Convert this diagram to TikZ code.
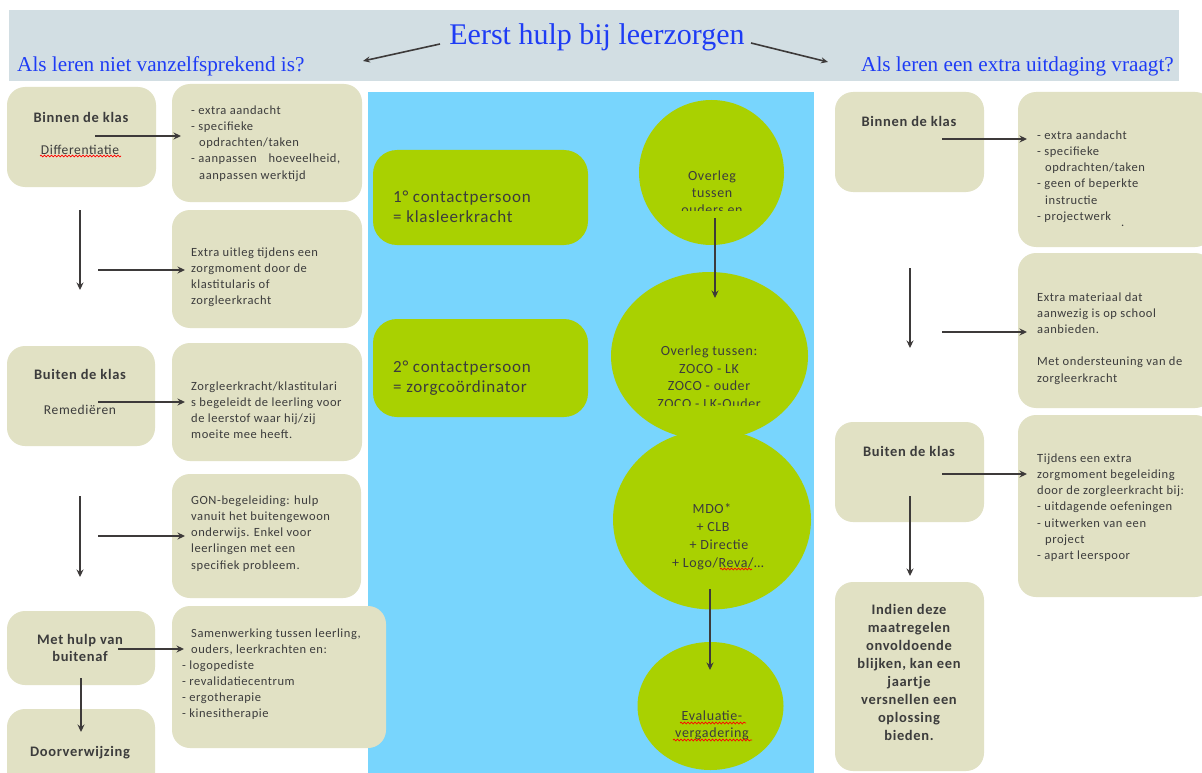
\documentclass[tikz,border=0pt]{standalone}
\usepackage{fontspec}
\setmainfont{Liberation Serif}
\newfontfamily\boxfont{Carlito}[LetterSpace=4.5]
\usetikzlibrary{arrows.meta,decorations.pathmorphing,shapes.geometric}
\definecolor{band}{HTML}{D2DEE3}
\definecolor{beige}{HTML}{E1E1C4}
\definecolor{skyb}{HTML}{78D5FD}
\definecolor{lime}{HTML}{A9D101}
\definecolor{txtgray}{HTML}{3C3C3C}
\definecolor{titleblue}{HTML}{1E3CF5}
\definecolor{arrowgray}{HTML}{3D3A3A}
\newcommand\myind{\hspace*{8pt}}
\tikzset{
  beigebox/.style={fill=beige, draw=none, rounded corners=18pt, inner sep=0pt},
  limebox/.style={fill=lime, draw=none, rounded corners=24pt, inner sep=0pt},
  limeell/.style={ellipse, fill=lime, draw=none, inner sep=0pt},
  flow/.style={draw=arrowgray, line width=2.3pt, -{Stealth[length=7.5pt,width=7pt]}},
  thinflow/.style={draw=arrowgray, line width=1.6pt, -{Stealth[length=7pt,width=6pt]}},
  stxt/.style={font=\boxfont\fontsize{12.5}{16.2}\selectfont, text=txtgray, align=left, anchor=north west, inner sep=0pt},
  rtxt/.style={font=\boxfont\fontsize{13.5}{17}\selectfont, text=txtgray, align=center, inner sep=0pt},
  bhead/.style={font=\boxfont\bfseries\fontsize{14.5}{18}\selectfont, text=txtgray, align=center, inner sep=0pt},
  ctxt/.style={font=\boxfont\fontsize{14}{17}\selectfont, text=txtgray, align=center, anchor=north, inner sep=0pt},
  gtxt/.style={font=\boxfont\fontsize{17}{20}\selectfont, text=txtgray, align=left, anchor=north west, inner sep=0pt},
  heading/.style={font=\fontsize{21.2}{24}\selectfont, text=titleblue, anchor=west, inner sep=0pt},
  spell/.style={draw=red, line width=0.7pt, decorate, decoration={snake, amplitude=0.9pt, segment length=3.5pt}}
}
\begin{document}
\begin{tikzpicture}[x=1pt,y=-1pt]
\useasboundingbox[fill=white] (0,0) rectangle (1202,773);

% header band
\fill[band] (9,10) rectangle (1179,81);
\node[font=\fontsize{30}{32}\selectfont, text=titleblue, inner sep=0pt] (title) at (597,37) {Eerst hulp bij leerzorgen};
\node[heading] (hleft) at (17,66) {Als leren niet vanzelfsprekend is?};
\node[heading] (hright) at (861,66) {Als leren een extra uitdaging vraagt?};
\coordinate (ta1s) at (440,44); \coordinate (ta1e) at (363,61);
\coordinate (ta2s) at (751,43); \coordinate (ta2e) at (828,62);
\draw[thinflow] (ta1s) -- (ta1e);
\draw[thinflow] (ta2s) -- (ta2e);

% middle blue panel
\fill[skyb] (368,92) rectangle (814,780);

% ---------------- left column ----------------
\node[beigebox, minimum width=149pt, minimum height=100pt] (bl1) at (81.5,137) {};
\node[bhead] (bl1h) at (81,117) {Binnen de klas};
\node[rtxt] (bl1t) at (80,150) {Differentiatie};
\draw[spell] (40,156) -- (121,156);

\node[beigebox, minimum width=190pt, minimum height=118pt] (tl1) at (267,143) {};
\node[stxt] (tl1t) at (191,105.5) {- extra aandacht\\- specifieke\\\myind opdrachten/taken\\- aanpassen\hspace{12pt}hoeveelheid,\\\myind aanpassen werktijd};

\node[beigebox, minimum width=190pt, minimum height=118pt] (tl2) at (267,269) {};
\node[stxt] (tl2t) at (191,247.5) {Extra uitleg tijdens een\\zorgmoment door de\\klastitularis of\\zorgleerkracht};

\node[beigebox, minimum width=148pt, minimum height=100pt] (bl2) at (81,396) {};
\node[bhead] (bl2h) at (80,374) {Buiten de klas};
\node[rtxt] (bl2t) at (80,410) {Remediëren};

\node[beigebox, minimum width=190pt, minimum height=118pt] (tl3) at (267,402) {};
\node[stxt] (tl3t) at (191,381.5) {Zorgleerkracht/klastitulari\\s begeleidt de leerling voor\\de leerstof waar hij/zij\\moeite mee heeft.};

\node[beigebox, minimum width=189pt, minimum height=124pt] (tl4) at (266.5,536) {};
\node[stxt] (tl4t) at (191,495.5) {GON-begeleiding: hulp\\vanuit het buitengewoon\\onderwijs. Enkel voor\\leerlingen met een\\specifiek probleem.};

\node[beigebox, minimum width=148pt, minimum height=74pt] (bl3) at (81,648) {};
\node[bhead, font=\boxfont\bfseries\fontsize{14.5}{17}\selectfont] (bl3h) at (80,647.5) {Met hulp van\\buitenaf};

\node[beigebox, minimum width=214pt, minimum height=142pt] (tl5) at (279,677) {};
\node[stxt] (tl5t) at (191,628.5) {Samenwerking tussen leerling,\\ouders, leerkrachten en:};
\node[stxt] (tl5l) at (182,660.5) {- logopediste\\- revalidatiecentrum\\- ergotherapie\\- kinesitherapie};

\node[beigebox, minimum width=148pt, minimum height=90pt] (bl4) at (81,754) {};
\node[bhead] (bl4h) at (80,753) {Doorverwijzing};

% left arrows
\coordinate (la1s) at (95,136);  \coordinate (la1e) at (181,136);
\coordinate (ld1s) at (80,210);  \coordinate (ld1e) at (80,290);
\coordinate (la2s) at (98,270);  \coordinate (la2e) at (185,270);
\coordinate (la3s) at (98,402);  \coordinate (la3e) at (185,402);
\coordinate (ld2s) at (80,496);  \coordinate (ld2e) at (80,577);
\coordinate (la4s) at (98,536);  \coordinate (la4e) at (185,536);
\coordinate (la5s) at (118,649); \coordinate (la5e) at (184,649);
\coordinate (ld3s) at (81,678);  \coordinate (ld3e) at (81,732);
\foreach \a in {la1,ld1,la2,la3,ld2,la4,la5,ld3} \draw[flow] (\a s) -- (\a e);

% ---------------- middle ----------------
\node[limebox, minimum width=215pt, minimum height=95pt] (g1) at (480.5,197.5) {};
\node[gtxt] (g1t) at (393,190.6) {1° contactpersoon\\= klasleerkracht};
\node[limebox, minimum width=215pt, minimum height=98pt] (g2) at (480.5,368) {};
\node[gtxt] (g2t) at (393,360.6) {2° contactpersoon\\= zorgcoördinator};

\node[limeell, minimum width=145pt, minimum height=145pt] (c1) at (711.5,172.5) {};
\begin{scope}
  \clip (620,100) rectangle (800,210.5);
  \node[ctxt] (c1t) at (712,170.6) {Overleg\\tussen\\ouders en};
\end{scope}

\node[limeell, minimum width=197pt, minimum height=168pt] (c2) at (709.5,356) {};
\begin{scope}
  \clip (600,300) rectangle (820,405);
  \node[ctxt, font=\boxfont\fontsize{14}{17.7}\selectfont] (c2t) at (709,345.6) {Overleg tussen:\\ZOCO - LK\\ZOCO - ouder\\ZOCO - LK-Ouder};
\end{scope}

\node[limeell, minimum width=198pt, minimum height=180pt] (c3) at (712,519.5) {};
\node[ctxt, font=\boxfont\fontsize{14}{18}\selectfont] (c3t) at (712,503.6) {MDO*\\\hspace*{2pt}+ CLB\\\hspace*{14pt}+ Directie\\\hspace*{12pt}+ Logo/Reva/…};
\draw[spell] (720,569) -- (752,569);

\node[limeell, minimum width=146pt, minimum height=128pt] (c4) at (710.5,706) {};
\node[ctxt] (c4t) at (712,710.6) {Evaluatie-\\vergadering};
\draw[spell] (680,723) -- (746,723);
\draw[spell] (673,740) -- (752,740);

\coordinate (m1s) at (715,218); \coordinate (m1e) at (715,298);
\coordinate (m2s) at (710,589); \coordinate (m2e) at (710,670);
\draw[flow] (m1s) -- (m1e);
\draw[flow] (m2s) -- (m2e);

% ---------------- right column ----------------
\node[beigebox, minimum width=149pt, minimum height=100pt] (br1) at (909.5,142) {};
\node[bhead] (br1h) at (909,121) {Binnen de klas};

\node[beigebox, minimum width=195pt, minimum height=155pt] (tr1) at (1115.5,169.5) {};
\node[stxt] (tr1t) at (1037,130.5) {- extra aandacht\\- specifieke\\\myind opdrachten/taken\\- geen of beperkte\\\myind instructie\\- projectwerk};
\node[stxt] (tr1d) at (1121,225) {.};

\node[beigebox, minimum width=195pt, minimum height=155pt] (tr2) at (1115.5,330.5) {};
\node[stxt] (tr2t) at (1037,292.5) {Extra materiaal dat\\aanwezig is op school\\aanbieden.\\[16pt]Met ondersteuning van de\\zorgleerkracht};

\node[beigebox, minimum width=149pt, minimum height=100pt] (br2) at (909.5,472) {};
\node[bhead] (br2h) at (909,451) {Buiten de klas};

\node[beigebox, minimum width=195pt, minimum height=182pt] (tr3) at (1115.5,506) {};
\node[stxt] (tr3t) at (1037,453.5) {Tijdens een extra\\zorgmoment begeleiding\\door de zorgleerkracht bij:\\- uitdagende oefeningen\\- uitwerken van een\\\myind project\\- apart leerspoor};

\node[beigebox, minimum width=149pt, minimum height=189pt] (br3) at (909.5,676.5) {};
\node[bhead] (br3t) at (909,672) {Indien deze\\maatregelen\\onvoldoende\\blijken, kan een\\jaartje\\versnellen een\\oplossing\\bieden.};

\coordinate (ra1s) at (942,139); \coordinate (ra1e) at (1027,139);
\coordinate (rd1s) at (910,268); \coordinate (rd1e) at (910,348);
\coordinate (ra2s) at (942,332); \coordinate (ra2e) at (1027,332);
\coordinate (ra3s) at (942,474); \coordinate (ra3e) at (1027,474);
\coordinate (rd2s) at (910,496); \coordinate (rd2e) at (910,576);
\foreach \a in {ra1,rd1,ra2,ra3,rd2} \draw[flow] (\a s) -- (\a e);
\end{tikzpicture}
\end{document}
